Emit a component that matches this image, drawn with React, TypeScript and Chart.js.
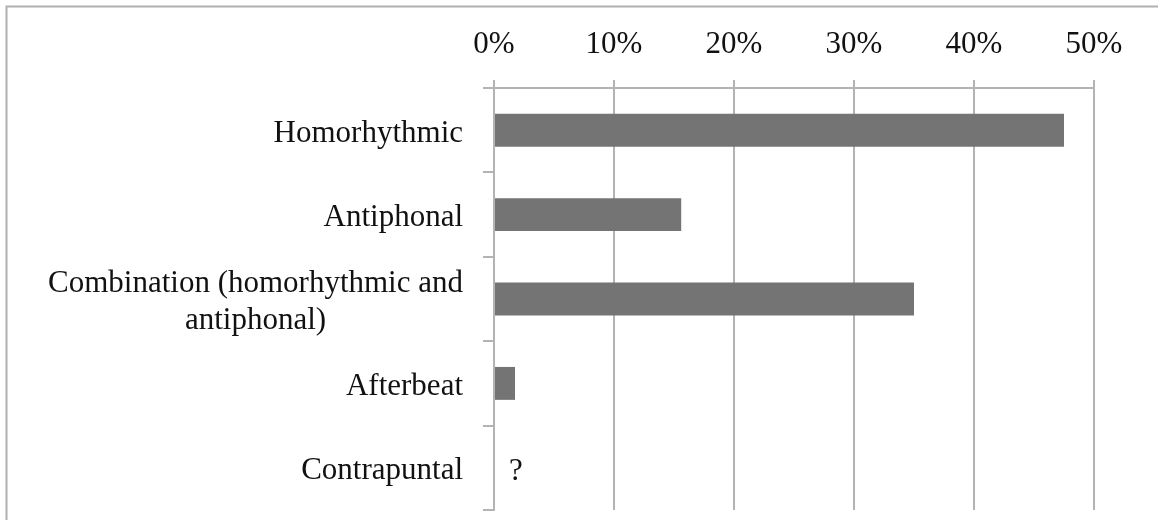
import React, { useEffect, useRef } from "react";
import { Chart, registerables } from "chart.js";

Chart.register(...registerables);

const categories: (string | string[])[] = [
  "Homorhythmic",
  "Antiphonal",
  ["Combination (homorhythmic and", "antiphonal)"],
  "Afterbeat",
  "Contrapuntal",
];
const values: (number | null)[] = [47.5, 15.6, 35, 1.75, null];
const valueNotes: string[] = ["", "", "", "", "?"];
const xMin = 0;
const xMax = 50;
const xStep = 10;

const FONT = '"Liberation Serif", "Times New Roman", serif';
const GRID = "#b3b3b3";

const framePlugin = {
  id: "frame",
  beforeDraw(chart: any) {
    const ctx = chart.ctx;
    ctx.save();
    ctx.fillStyle = "#ffffff";
    ctx.fillRect(0, 0, chart.width, chart.height);
    ctx.strokeStyle = "#b0b0b0";
    ctx.lineWidth = 2;
    ctx.beginPath();
    ctx.moveTo(6.5, chart.height);
    ctx.lineTo(6.5, 6.5);
    ctx.lineTo(chart.width, 6.5);
    ctx.stroke();
    ctx.restore();
  },
};

const labelPlugin = {
  id: "ylabels",
  afterDraw(chart: any) {
    const ctx = chart.ctx;
    const y = chart.scales.y;
    const x = chart.scales.x;
    ctx.save();
    ctx.font = `31px ${FONT}`;
    ctx.fillStyle = "#111111";
    ctx.textBaseline = "middle";
    const right = y.right - 11 - 20;
    const lh = 37;
    (chart.data.labels as any[]).forEach((lab, i) => {
      const lines: string[] = Array.isArray(lab) ? lab : [lab];
      const cy = y.getPixelForValue(i) + 3.5;
      const widths = lines.map((l) => ctx.measureText(l).width);
      const block = Math.max(...widths);
      const cx = right - block / 2;
      ctx.textAlign = "center";
      lines.forEach((l, k) => {
        const ly = cy + (k - (lines.length - 1) / 2) * lh;
        ctx.fillText(l, cx, ly);
      });
      const note = valueNotes[i];
      if (note) {
        const v = values[i] ?? 0;
        ctx.textAlign = "center";
        ctx.fillText(note, x.getPixelForValue(v) + 22, cy + 1);
      }
    });
    ctx.restore();
  },
};

export default function App() {
  const ref = useRef<HTMLCanvasElement>(null);
  useEffect(() => {
    const chart = new Chart(ref.current!, {
      type: "bar",
      data: {
        labels: categories as any,
        datasets: [
          {
            data: values as any,
            backgroundColor: "#747474",
            borderWidth: 0,
            barPercentage: 0.39,
            categoryPercentage: 1,
          },
        ],
      },
      options: {
        indexAxis: "y",
        animation: false,
        responsive: false,
        maintainAspectRatio: false,
        layout: { padding: { left: 0, right: 64, top: 0, bottom: 10 } },
        plugins: {
          legend: { display: false },
          tooltip: { enabled: false },
          title: { display: false },
        },
        scales: {
          x: {
            position: "top",
            min: xMin,
            max: xMax,
            ticks: {
              stepSize: xStep,
              padding: 17,
              color: "#111111",
              font: { family: FONT, size: 31 },
              callback: (v: any) => v + "%",
            },
            grid: {
              color: GRID,
              lineWidth: 2,
              tickLength: 8,
              drawTicks: true,
            },
            border: { display: true, color: GRID, width: 2 },
            afterFit: (s: any) => {
              s.height = 88;
            },
          },
          y: {
            type: "category",
            offset: true,
            ticks: { display: false },
            grid: {
              offset: true,
              drawOnChartArea: false,
              drawTicks: true,
              tickLength: 11,
              color: GRID,
              lineWidth: 2,
            },
            border: { display: true, color: GRID, width: 2 },
            afterFit: (s: any) => {
              s.width = 494;
            },
          },
        },
      },
      plugins: [framePlugin, labelPlugin],
    });
    return () => chart.destroy();
  }, []);
  return (
    <div style={{ position: "fixed", left: 0, top: 0, width: 1158, height: 520, background: "#fff" }}>
      <canvas ref={ref} width={1158} height={520} style={{ display: "block" }} />
    </div>
  );
}
